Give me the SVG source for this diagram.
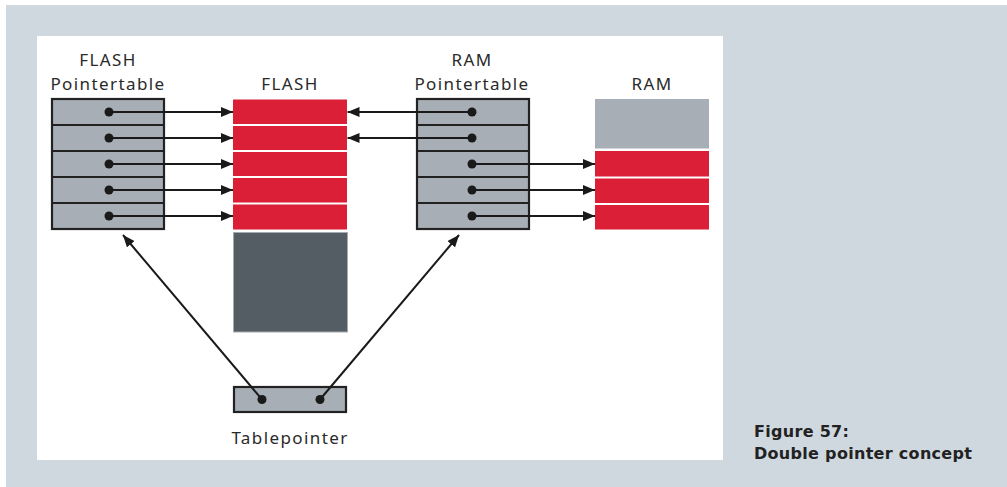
<svg xmlns="http://www.w3.org/2000/svg" width="1007" height="487" viewBox="0 0 1007 487">
<style>
.lbl{font-family:"Noto Sans","DejaVu Sans",sans-serif;font-size:17px;fill:#2a2a2a;text-anchor:middle;letter-spacing:1.4px}
.cap{font-family:"DejaVu Sans","Noto Sans",sans-serif;font-weight:bold;font-size:16px;fill:#222;letter-spacing:0.3px}
.tbl{fill:#a7aeb5;stroke:#222;stroke-width:2.2}
.div{stroke:#222;stroke-width:2.2}
.red{fill:#da1f36}
.ln{stroke:#1a1a1a;stroke-width:2;fill:none}
.dot{fill:#1a1a1a}
</style>
<defs>
<marker id="ah" viewBox="0 0 12 10" refX="12" refY="5" markerWidth="12" markerHeight="10" markerUnits="userSpaceOnUse" orient="auto">
<path d="M0,0 L12,5 L0,10 Z" fill="#1a1a1a"/>
</marker>
</defs>
<rect x="6" y="5" width="1001" height="482" fill="#d0d8df"/>
<rect x="37" y="36" width="686" height="424" fill="#ffffff"/>

<g id="flash-pointertable">
<text class="lbl" x="108" y="66">FLASH</text>
<text class="lbl" x="108" y="89.5">Pointertable</text>
<rect class="tbl" x="52" y="99" width="112" height="130"/>
<line class="div" x1="52" y1="125" x2="164" y2="125"/>
<line class="div" x1="52" y1="151" x2="164" y2="151"/>
<line class="div" x1="52" y1="177" x2="164" y2="177"/>
<line class="div" x1="52" y1="203" x2="164" y2="203"/>
<circle class="dot" cx="109" cy="112" r="4.5"/>
<circle class="dot" cx="109" cy="138" r="4.5"/>
<circle class="dot" cx="109" cy="164" r="4.5"/>
<circle class="dot" cx="109" cy="190" r="4.5"/>
<circle class="dot" cx="109" cy="216" r="4.5"/>
</g>

<g id="flash">
<text class="lbl" x="290" y="89.5">FLASH</text>
<rect class="red" x="233" y="99.5" width="114" height="24.5"/>
<rect class="red" x="233" y="126" width="114" height="24"/>
<rect class="red" x="233" y="152" width="114" height="24"/>
<rect class="red" x="233" y="178" width="114" height="24.5"/>
<rect class="red" x="233" y="204.5" width="114" height="25"/>
<rect x="233.5" y="232.5" width="114" height="99.5" fill="#555d64" stroke="#a3abb2" stroke-width="1"/>
</g>

<g id="ram-pointertable">
<text class="lbl" x="472" y="66">RAM</text>
<text class="lbl" x="472" y="89.5">Pointertable</text>
<rect class="tbl" x="417" y="99" width="112" height="130"/>
<line class="div" x1="417" y1="125" x2="529" y2="125"/>
<line class="div" x1="417" y1="151" x2="529" y2="151"/>
<line class="div" x1="417" y1="177" x2="529" y2="177"/>
<line class="div" x1="417" y1="203" x2="529" y2="203"/>
<circle class="dot" cx="472" cy="112" r="4.5"/>
<circle class="dot" cx="472" cy="138" r="4.5"/>
<circle class="dot" cx="472" cy="164" r="4.5"/>
<circle class="dot" cx="472" cy="190" r="4.5"/>
<circle class="dot" cx="472" cy="216" r="4.5"/>
</g>

<g id="ram">
<text class="lbl" x="652" y="89.5">RAM</text>
<rect x="595" y="99" width="114" height="49.5" fill="#a7aeb5"/>
<rect class="red" x="595" y="151" width="114" height="25.5"/>
<rect class="red" x="595" y="178.5" width="114" height="24.5"/>
<rect class="red" x="595" y="205" width="114" height="24.5"/>
</g>

<g id="tablepointer">
<rect class="tbl" x="234" y="387" width="112" height="25"/>
<circle class="dot" cx="262" cy="399.5" r="4.5"/>
<circle class="dot" cx="320" cy="399.5" r="4.5"/>
<text class="lbl" x="290" y="444">Tablepointer</text>
</g>

<g id="connectors">
<line class="ln" x1="109" y1="112" x2="233" y2="112" marker-end="url(#ah)"/>
<line class="ln" x1="109" y1="138" x2="233" y2="138" marker-end="url(#ah)"/>
<line class="ln" x1="109" y1="164" x2="233" y2="164" marker-end="url(#ah)"/>
<line class="ln" x1="109" y1="190" x2="233" y2="190" marker-end="url(#ah)"/>
<line class="ln" x1="109" y1="216" x2="233" y2="216" marker-end="url(#ah)"/>
<line class="ln" x1="472" y1="112" x2="347.5" y2="112" marker-end="url(#ah)"/>
<line class="ln" x1="472" y1="138" x2="347.5" y2="138" marker-end="url(#ah)"/>
<line class="ln" x1="472" y1="164" x2="595" y2="164" marker-end="url(#ah)"/>
<line class="ln" x1="472" y1="190" x2="595" y2="190" marker-end="url(#ah)"/>
<line class="ln" x1="472" y1="216" x2="595" y2="216" marker-end="url(#ah)"/>
<line class="ln" x1="262" y1="399.5" x2="123" y2="235" marker-end="url(#ah)"/>
<line class="ln" x1="320" y1="399.5" x2="459" y2="235" marker-end="url(#ah)"/>
</g>

<g id="caption">
<text class="cap" x="754" y="437">Figure 57:</text>
<text class="cap" x="754" y="459">Double pointer concept</text>
</g>
</svg>
